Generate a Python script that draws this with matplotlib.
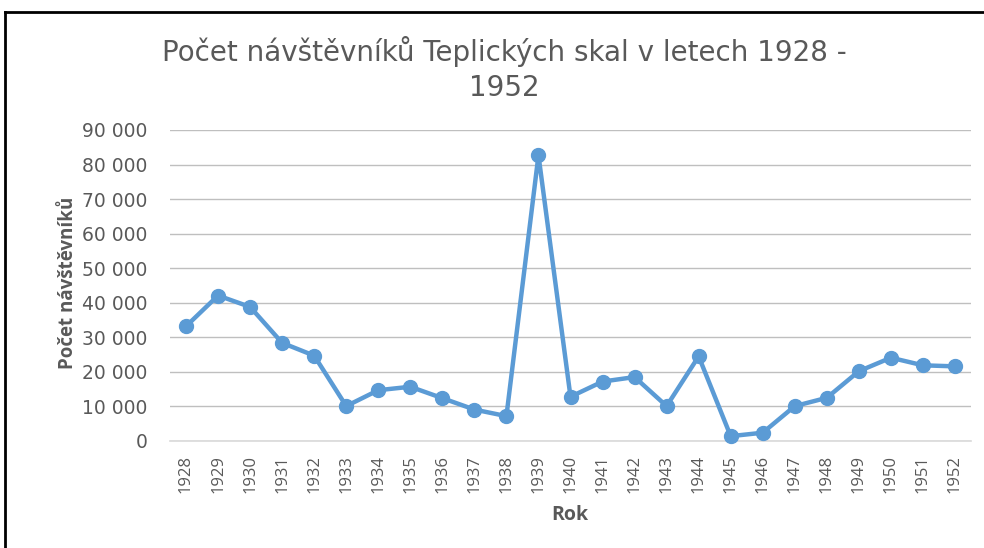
import matplotlib
matplotlib.use("Agg")
import matplotlib.pyplot as plt
from matplotlib.ticker import FuncFormatter
from matplotlib.lines import Line2D

years = [str(y) for y in range(1928, 1953)]
visitors = [33200, 42100, 38800, 28400, 24700, 10100, 14700, 15700, 12400, 9100,
            7200, 82700, 12800, 17200, 18500, 10100, 24500, 1400, 2400, 10100,
            12500, 20200, 24100, 21900, 21600]
yticks = [0, 10000, 20000, 30000, 40000, 50000, 60000, 70000, 80000, 90000]

title = "Počet návštěvníků Teplických skal v letech 1928 -\n1952"
ylabel = "Počet návštěvníků"
xlabel = "Rok"

plt.rcParams['font.family'] = ['DejaVu Sans']
gray = '#595959'

fig = plt.figure(figsize=(9.84, 5.48), dpi=100)
ax = fig.add_axes([170/984, 1-441/548, 801/984, 311/548])

x = list(range(len(years)))
ax.plot(x, visitors, color='#5B9BD5', lw=3.2, marker='o', ms=10,
        solid_joinstyle='round', clip_on=False, zorder=3)

ax.set_xlim(-0.5, len(years)-0.5)
ax.set_ylim(0, 90000)
ax.set_yticks(yticks)
ax.yaxis.set_major_formatter(FuncFormatter(lambda v, p: f"{int(v):,}".replace(",", " ")))
ax.set_xticks(x)
ax.set_xticklabels(years, rotation=90, family=['Open Sans', 'DejaVu Sans'], fontsize=12)
ax.tick_params(axis='both', length=0, colors=gray)
ax.tick_params(axis='y', pad=16, labelsize=13.5)
ax.tick_params(axis='x', pad=10)
ax.grid(axis='y', color='#BFBFBF', lw=1)
ax.set_axisbelow(True)
for s in ['top', 'right', 'left']:
    ax.spines[s].set_visible(False)
ax.spines['bottom'].set_color('#D9D9D9')
ax.spines['bottom'].set_linewidth(1.2)

fig.text(504/984, 1-69/548, title, ha='center', va='center', fontsize=20,
         color=gray, linespacing=1.32)
fig.text(68/984, 1-283/548, ylabel, ha='center', va='center', rotation=90,
         fontsize=13.5, fontweight='bold', color=gray, family=['Open Sans', 'DejaVu Sans'])
fig.text(570/984, 1-515/548, xlabel, ha='center', va='center',
         fontsize=14, fontweight='bold', color=gray, family=['Open Sans', 'DejaVu Sans'])

# outer frame (left and top edges visible)
fig.add_artist(Line2D([5/984, 5/984], [0, 1-12/548], transform=fig.transFigure, color='black', lw=2))
fig.add_artist(Line2D([5/984, 1], [1-12/548, 1-12/548], transform=fig.transFigure, color='black', lw=2))

fig.savefig("out.png", dpi=100, facecolor='white')
